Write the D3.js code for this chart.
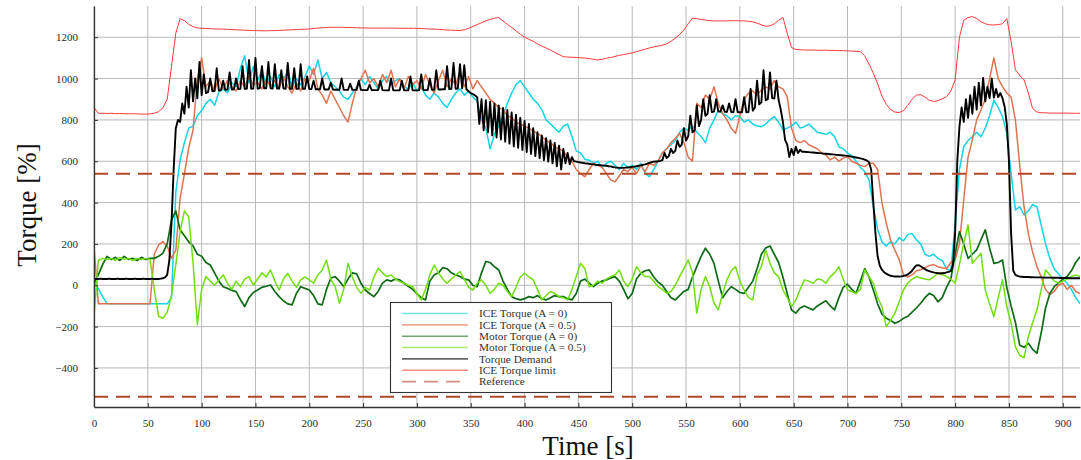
<!DOCTYPE html>
<html>
<head>
<meta charset="utf-8">
<script src="https://cdn.jsdelivr.net/npm/d3@7"></script>
<style>
  body { margin: 0; background: #fff; }
  svg { display: block; }
</style>
</head>
<body>
<svg id="chart" width="1081" height="460"></svg>
<script>
// Sample instants (s): torque signals logged every 4 s, demand every 2 s
const sampleTimes = d3.range(0, 917, 4);
const demandTimes = d3.range(0, 917, 2);

// ICE torque, strategy A = 0 (%)
const iceTorqueA0 = [
  20,-15,-55,-88,-90,-90,-90,-90,-90,-90,-90,-90,-90,-90,-90,-90,-90,-90,-60,450,606,690,760,770,820,
  845,880,900,870,935,950,930,980,960,1050,1110,980,1060,990,1040,970,1010,960,1020,990,1040,960,1000,970,1010,
  1060,1020,1090,1000,1030,980,960,940,910,900,930,960,1000,970,1010,980,950,990,1010,970,990,1000,960,950,980,
  940,960,920,900,930,910,880,860,900,930,950,920,940,910,890,800,760,660,730,770,820,880,930,970,990,
  960,930,900,880,850,800,780,760,740,770,780,720,650,640,610,605,590,600,570,590,600,580,560,590,570,
  580,560,590,540,525,560,600,640,660,680,700,740,760,750,770,740,720,690,760,800,848,830,820,800,820,
  816,790,800,780,770,767,780,800,816,790,752,760,770,790,760,767,780,760,740,735,730,740,719,670,660,
  640,625,600,570,550,510,380,270,210,190,210,200,230,215,245,250,220,200,150,140,150,130,120,80,70,
  300,560,670,700,719,740,719,760,820,896,860,816,735,540,364,380,340,360,390,380,290,200,130,80,55,
  30,10,-20,-60,-90
];

// ICE torque, strategy A = 0.5 (%)
const iceTorqueA05 = [
  190,-90,-90,-90,-90,-90,-90,-90,-90,-90,-90,-90,-90,-90,150,195,211,190,130,170,420,540,665,750,1000,
  1100,960,990,940,1000,950,990,960,940,990,960,1010,970,980,950,1000,960,990,950,1010,960,930,980,940,1000,
  990,1050,950,920,880,940,900,860,820,790,880,960,1000,1040,980,1000,960,1020,980,1040,960,1000,950,1010,970,
  990,950,1020,970,930,990,1040,960,1000,970,1030,960,1010,950,990,960,930,900,880,860,850,820,810,790,780,
  770,760,745,735,720,700,690,670,660,650,620,600,560,540,525,560,590,580,570,540,510,500,530,560,550,
  570,540,580,550,590,580,600,640,660,690,710,735,690,620,600,880,860,920,900,960,880,830,800,760,735,
  820,900,929,940,920,945,960,950,990,960,950,913,760,700,690,700,680,670,660,640,630,606,620,600,615,
  622,600,590,580,574,590,590,560,400,300,220,170,125,50,40,50,70,75,85,95,100,90,85,80,110,
  122,200,413,620,703,800,848,900,1000,1100,1000,961,930,910,800,580,380,250,160,90,40,-20,-45,-30,0,
  10,-20,0,-30,-40
];

// Electric motor torque, strategy A = 0 (%)
const motorTorqueA0 = [
  10,50,100,140,125,135,120,140,125,130,120,135,125,130,130,140,155,200,316,360,268,240,210,190,150,
  140,110,98,60,20,-7,-15,-25,-31,-70,-103,-60,-35,-23,-10,-5,1,-30,-55,-75,-90,-95,-40,-7,-15,
  -23,-50,-90,-95,-20,34,42,20,-7,30,60,55,10,-23,-40,-55,-30,10,26,20,30,26,10,-5,-20,
  -40,-60,-71,20,50,60,85,80,60,50,42,30,26,0,-7,60,115,110,90,74,20,-20,-55,-65,-71,
  -65,-55,-60,-50,-65,-71,-60,-50,-55,-55,-65,-71,-40,20,30,10,-7,10,20,26,35,42,20,-20,-65,
  -40,30,58,70,74,40,15,0,-30,-60,-71,-50,-30,-20,40,90,140,179,150,106,20,-60,-30,-7,-20,
  -35,-39,-10,20,80,150,180,190,150,110,40,-40,-120,-135,-110,-100,-110,-119,-100,-87,-75,-100,-119,-60,-10,
  5,-20,-39,20,80,40,-23,-90,-140,-160,-170,-184,-175,-160,-150,-130,-110,-87,-60,-39,-50,-80,-60,-10,30,
  150,260,200,130,150,171,220,268,180,106,110,122,-10,-100,-180,-290,-300,-281,-310,-329,-230,-110,-40,-7,10,
  30,42,70,110,138
];

// Electric motor torque, strategy A = 0.5 (%)
const motorTorqueA05 = [
  -150,120,130,125,130,120,135,125,130,120,130,125,130,125,-20,-150,-160,-130,-50,100,260,360,330,110,-190,
  -20,42,20,0,26,50,10,-20,20,-7,30,42,0,30,60,40,74,20,-23,30,58,20,-10,26,40,
  26,10,50,74,122,30,-7,-87,-20,106,40,-10,-39,-10,-23,40,82,60,42,50,30,18,10,0,-7,
  -40,-71,-20,50,98,60,30,10,30,50,66,30,-10,-23,10,26,0,-39,-20,10,0,-30,-55,-10,40,
  58,40,26,-20,-71,-50,-30,-39,-55,-60,-71,-20,42,106,80,-7,0,20,10,30,42,50,74,20,-7,
  30,90,60,42,42,20,-7,-20,-39,-30,0,42,80,122,60,-135,-20,42,-7,-87,-119,-40,26,70,90,
  20,-23,-60,-71,50,90,171,106,60,42,-23,-60,-103,-71,-20,26,20,10,30,26,10,42,60,90,30,
  -23,-30,-39,-20,74,40,10,-60,-103,-200,-170,-135,-80,-23,10,30,42,35,30,26,40,58,50,42,30,
  10,100,203,292,106,130,155,-23,-90,-152,-60,26,-103,-184,-297,-340,-350,-249,-180,-119,-20,74,50,20,10,
  20,30,42,50,42
];

// Driver torque demand (%), 2 s resolution
const torqueDemand = [
  30,31,30,32,30,31,30,32,30,31,30,32,30,31,30,32,30,31,30,32,30,31,30,32,30,31,30,32,30,31,30,32,
  34,38,50,120,300,560,760,800,790,880,830,960,860,1040,890,1000,905,1080,
  920,1020,930,935,1000,938,940,1050,942,944,990,945,946,1030,947,948,1000,949,950,1060,950,951,1090,951,952,1100,952,953,1060,953,
  953,1080,953,952,1070,952,952,1040,952,951,1075,951,951,1050,950,950,1070,950,950,1010,
  949,949,990,948,948,948,1000,947,947,947,980,947,946,946,946,1000,946,945,945,975,945,945,945,990,945,
  944,944,944,970,944,944,944,944,990,944,943,943,943,1000,943,943,943,943,990,943,943,943,1010,943,943,
  943,943,1020,944,944,944,1000,945,946,1040,947,947,948,948,1060,949,950,1075,951,952,1070,952,1065,948,938,
  930,925,918,910,780,900,750,895,740,888,725,880,715,870,705,858,695,848,685,836,672,825,665,810,655,
  795,645,780,635,760,625,740,615,725,605,712,598,700,590,688,575,675,560,660,590,640,585,620,600,598,
  596,594,592,590,589,588,586,585,583,582,581,580,579,578,576,575,572,570,569,568,568,568,569,570,571,
  573,574,576,578,580,583,585,588,592,595,598,599,600,602,605,640,615,625,660,640,650,700,670,680,760,
  700,720,820,740,750,870,770,800,900,820,830,920,838,840,900,840,840,870,839,838,880,838,837,900,837,
  837,837,910,837,838,950,845,860,990,875,885,1040,895,900,1030,905,903,990,896,850,790,703,680,620,660,
  630,670,640,655,646,646,645,644,643,642,641,640,639,638,637,636,635,634,633,632,631,630,629,628,627,
  626,624,622,620,618,616,614,611,608,603,595,560,400,250,140,95,75,63,56,50,46,44,42,42,42,
  43,45,48,52,60,70,85,96,97,92,85,78,72,68,65,62,60,58,58,58,59,62,65,68,100,
  252,600,767,860,790,900,810,920,830,960,850,980,870,1003,890,960,905,1000,908,950,910,930,905,864,780,
  600,250,70,50,45,42,41,40,40,40,39,39,38,38,38,38,37,37,37,37,36,36,36,36,35,
  35,35,35,34,34,34,34,34,34
];

// ICE torque limit (%)
const iceTorqueLimit = [
  860,832,832,831,832,830,831,830,829,830,829,828,828,829,832,840,858,900,1058,1220,1290,1280,1262,1251,1245,
  1243,1242,1241,1240,1240,1239,1238,1237,1236,1235,1234,1233,1232,1232,1231,1231,1232,1232,1233,1234,1235,1236,1237,1238,1239,
  1240,1242,1244,1246,1247,1248,1248,1248,1248,1247,1247,1246,1245,1245,1244,1244,1244,1244,1244,1244,1244,1243,1243,1243,1243,
  1243,1242,1241,1240,1239,1238,1237,1235,1234,1233,1232,1236,1243,1252,1261,1270,1279,1286,1292,1295,1279,1263,1247,1231,1215,
  1200,1190,1180,1168,1157,1148,1138,1127,1116,1106,1104,1103,1102,1101,1099,1097,1093,1090,1093,1098,1102,1107,1112,1116,1120,
  1124,1130,1136,1142,1148,1153,1157,1161,1168,1180,1195,1213,1235,1265,1292,1290,1286,1283,1280,1279,1279,1279,1279,1280,1280,
  1279,1279,1277,1274,1268,1260,1253,1255,1265,1282,1296,1220,1150,1141,1139,1138,1138,1138,1137,1137,1137,1136,1136,1135,1135,
  1134,1133,1132,1130,1110,1070,1026,975,915,875,850,838,835,845,870,900,920,922,910,895,889,893,902,912,940,
  993,1200,1283,1295,1300,1290,1275,1265,1260,1259,1261,1265,1290,1180,1042,1015,994,930,855,838,835,834,833,833,833,
  833,833,832,832,832
];

// Symmetric reference levels (%)
const referenceLevels = [540, -540];

const xTickValues = [0,50,100,150,200,250,300,350,400,450,500,550,600,650,700,750,800,850,900];
const yTickValues = [-400,-200,0,200,400,600,800,1000,1200];

const seriesLabels = [
  "ICE Torque (A = 0)", "ICE Torque (A = 0.5)", "Motor Torque (A = 0)",
  "Motor Torque (A = 0.5)", "Torque Demand", "ICE Torque limit", "Reference"
];

const series = [
  { label: seriesLabels[0], times: sampleTimes, values: iceTorqueA0,    color: "#14d3e6", width: 1.5 },
  { label: seriesLabels[1], times: sampleTimes, values: iceTorqueA05,   color: "#e0734f", width: 1.5 },
  { label: seriesLabels[2], times: sampleTimes, values: motorTorqueA0,  color: "#0f6a16", width: 1.7 },
  { label: seriesLabels[3], times: sampleTimes, values: motorTorqueA05, color: "#6fdf10", width: 1.5 },
  { label: seriesLabels[4], times: demandTimes, values: torqueDemand,   color: "#000000", width: 1.9 },
  { label: seriesLabels[5], times: sampleTimes, values: iceTorqueLimit, color: "#ff3a3a", width: 1.0 }
];
const refColor = "#b3472b";
const refDash = "14,8";

const svg = d3.select("#chart");
const plot = { left: 94, right: 1080, top: 6, bottom: 407 };

const x = d3.scaleLinear().domain([0, 916]).range([plot.left, plot.right]);
const y = d3.scaleLinear().domain([-589, 1351]).range([plot.bottom, plot.top]);

const serif = "'Liberation Serif', 'DejaVu Serif', serif";

// grid
const grid = svg.append("g").attr("class", "grid");
grid.selectAll("line.v").data(xTickValues).join("line")
  .attr("x1", d => x(d)).attr("x2", d => x(d))
  .attr("y1", plot.top).attr("y2", plot.bottom)
  .attr("stroke", "#b9b9b9").attr("stroke-width", 1);
grid.selectAll("line.h").data(yTickValues).join("line")
  .attr("x1", plot.left).attr("x2", plot.right)
  .attr("y1", d => y(d)).attr("y2", d => y(d))
  .attr("stroke", "#b9b9b9").attr("stroke-width", 1);

svg.append("clipPath").attr("id", "plot-clip")
  .append("rect")
  .attr("x", plot.left).attr("y", plot.top)
  .attr("width", plot.right - plot.left).attr("height", plot.bottom - plot.top);

const layer = svg.append("g").attr("clip-path", "url(#plot-clip)");

const line = d3.line()
  .x(d => x(d[0]))
  .y(d => y(d[1]));

series.forEach(s => {
  layer.append("path")
    .datum(d3.zip(s.times, s.values))
    .attr("d", line)
    .attr("fill", "none")
    .attr("stroke", s.color)
    .attr("stroke-width", s.width)
    .attr("stroke-linejoin", "round");
});

layer.selectAll("line.ref").data(referenceLevels).join("line")
  .attr("x1", plot.left).attr("x2", plot.right)
  .attr("y1", d => y(d)).attr("y2", d => y(d))
  .attr("stroke", refColor).attr("stroke-width", 2)
  .attr("stroke-dasharray", refDash);

// axes
const xAxis = d3.axisBottom(x).tickValues(xTickValues).tickFormat(d3.format("d"))
  .tickSizeInner(-4).tickSizeOuter(0).tickPadding(12);
const yAxis = d3.axisLeft(y).tickValues(yTickValues).tickFormat(d3.format("d"))
  .tickSizeInner(-4).tickSizeOuter(0).tickPadding(16);

const gx = svg.append("g").attr("transform", `translate(0,${plot.bottom})`).call(xAxis);
const gy = svg.append("g").attr("transform", `translate(${plot.left},0)`).call(yAxis);
[gx, gy].forEach(g => {
  g.select(".domain").attr("stroke", "#333").attr("stroke-width", 1.3);
  g.selectAll(".tick line").attr("stroke", "#333").attr("stroke-width", 1);
  g.selectAll(".tick text")
    .style("font-family", serif).style("font-size", "11px").attr("fill", "#2a2a2a");
});

// axis titles
svg.append("text")
  .attr("x", 588).attr("y", 455)
  .attr("text-anchor", "middle")
  .style("font-family", serif).style("font-size", "27px").attr("fill", "#111")
  .text("Time [s]");
svg.append("text")
  .attr("transform", "translate(36,205) rotate(-90)")
  .attr("text-anchor", "middle")
  .style("font-family", serif).style("font-size", "27px").attr("fill", "#111")
  .text("Torque [%]");

// legend
const legend = svg.append("g");
legend.append("rect")
  .attr("x", 390.5).attr("y", 302.5).attr("width", 221).attr("height", 90)
  .attr("fill", "#fff").attr("stroke", "#333").attr("stroke-width", 1.1);

const legendItems = series.map(s => ({ label: s.label, color: s.color, dash: null }))
  .concat([{ label: seriesLabels[6], color: refColor, dash: refDash }]);

legendItems.forEach((d, i) => {
  const ry = 313.5 + i * 11.35;
  legend.append("line")
    .attr("x1", 402).attr("x2", 468).attr("y1", ry).attr("y2", ry)
    .attr("stroke", d.color).attr("stroke-width", 1.6)
    .attr("stroke-opacity", 0.6)
    .attr("stroke-dasharray", d.dash);
  legend.append("text")
    .attr("x", 479).attr("y", ry + 3.8)
    .style("font-family", serif).style("font-size", "11.3px").attr("fill", "#333")
    .text(d.label);
});
</script>
</body>
</html>
